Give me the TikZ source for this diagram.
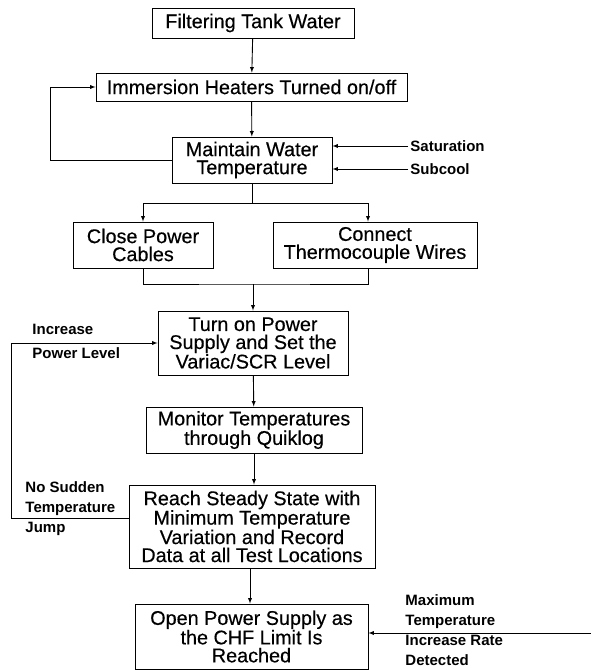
\documentclass[tikz,border=0pt]{standalone}
\usepackage{fontspec}
\setmainfont{Liberation Sans}
\newfontfamily\boxfont{Liberation Sans}[FakeBold=0.4]
\usetikzlibrary{calc, arrows, positioning}

\begin{document}
\begin{tikzpicture}[x=1pt, y=-1pt, >=latex, line width=.9pt,
  stepbox/.style={draw, rectangle, inner sep=0pt, align=center, font={\boxfont\fontsize{19.8}{18}\selectfont}},
  side/.style={inner sep=2pt, anchor=west, align=left, font={\fontsize{15}{20}\selectfont\bfseries}}]
  \useasboundingbox (0,0) rectangle (591,670);

  \node[stepbox, minimum width=202pt, minimum height=30pt] (filter) at (253,23) {Filtering Tank Water};
  \node[stepbox, minimum width=311pt, minimum height=28pt] (heat) at (251.5,87) {Immersion Heaters Turned on/off};
  \node[stepbox, minimum width=160pt, minimum height=46pt] (maint) at (252,160) {Maintain Water\\Temperature};
  \node[stepbox, minimum width=140pt, minimum height=46pt] (close) at (143,245) {Close Power\\Cables};
  \node[stepbox, minimum width=204pt, minimum height=46pt] (connect) at (375,245) {Connect\\Thermocouple Wires};
  \node[stepbox, minimum width=190pt, minimum height=64pt] (power) at (253,343) {Turn on Power\\Supply and Set the\\Variac/SCR Level};
  \node[stepbox, minimum width=216pt, minimum height=46pt] (monitor) at (254,430) {Monitor Temperatures\\through Quiklog};
  \node[stepbox, minimum width=246pt, minimum height=83pt] (steady) at (252,526.5) {Reach Steady State with\\Minimum Temperature\\Variation and Record\\Data at all Test Locations};
  \node[stepbox, minimum width=233pt, minimum height=65pt] (openps) at (251.5,636.5) {Open Power Supply as\\the CHF Limit Is\\Reached};

  \node[side] (sat) at (408,146) {Saturation};
  \node[side] (sub) at (408,169) {Subcool};
  \node[side] (incr) at (30,329) {Increase};
  \node[side] (level) at (30,353) {Power Level};
  \node[side] (jump) at (23,509) {No Sudden\\Temperature\\Jump};
  \node[side] (maxrate) at (403,630.5) {Maximum\\Temperature\\Increase Rate\\Detected};

  \coordinate (merge) at (253,284);
  \coordinate (maxin) at (591,633);

  \draw[->] (filter) -- (heat);
  \draw[->] (heat) -- (maint);
  \draw[->] (maint.west) -- ++(-121,0) |- (heat.west);
  \draw[->] (sat.west) -- (maint.east |- sat.west);
  \draw[->] (sub.west) -- (maint.east |- sub.west);
  \draw[->] (maint.south) -- ++(0,20) -| (close.north);
  \draw[->] (maint.south) -- ++(0,20) -| ([xshift=-7pt]connect.north);
  \draw (close.south) |- (merge) -| ([xshift=-7pt]connect.south);
  \draw[->] (merge) -- (power.north);
  \draw[->] (power) -- (monitor);
  \draw[->] (monitor.south) -- (monitor.south |- steady.north);
  \draw[->] ([yshift=8pt]steady.west) -- ++(-117,0) |- (power.west);
  \draw[->] ([xshift=-2pt]steady.south) -- ([xshift=-2pt]steady.south |- openps.north);
  \draw[->] (maxin) -- (openps.east |- maxin);
\end{tikzpicture}
\end{document}
